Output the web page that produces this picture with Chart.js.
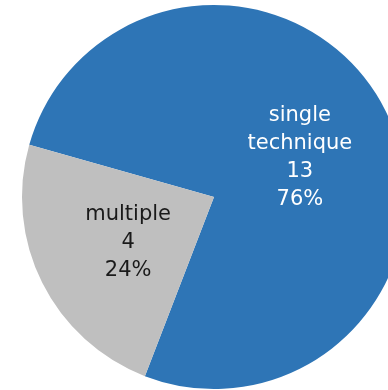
<!DOCTYPE html>
<html>
<head>
<meta charset="utf-8">
<script src="https://cdn.jsdelivr.net/npm/chart.js@4/dist/chart.umd.min.js"></script>
<style>
  html, body { margin: 0; padding: 0; background: #fff; overflow: hidden; }
  #wrap { width: 388px; height: 390px; overflow: hidden; position: relative; }
  canvas { position: absolute; left: 0; top: 0; }
</style>
</head>
<body>
<div id="wrap"><canvas id="c" width="428" height="390"></canvas></div>
<script>
// Categories and counts
const categories = ['single\ntechnique', 'multiple'];
const counts = [13, 4];
const sliceColors = ['#2E75B6', '#BFBFBF'];
const labelColors = ['#FFFFFF', '#1A1A1A'];

const total = counts.reduce((a, b) => a + b, 0);

// Writes category, count and share inside each slice, centred at half the radius
const sliceLabels = {
  id: 'sliceLabels',
  afterDatasetsDraw(chart) {
    const ctx = chart.ctx;
    const meta = chart.getDatasetMeta(0);
    ctx.save();
    ctx.font = '21px "DejaVu Sans", sans-serif';
    ctx.textAlign = 'center';
    ctx.textBaseline = 'middle';
    meta.data.forEach((arc, i) => {
      const pos = arc.tooltipPosition();
      const lines = categories[i].split('\n')
        .concat([String(counts[i]), Math.round(counts[i] / total * 100) + '%']);
      const lh = 28;
      const y0 = pos.y + 3 - (lines.length - 1) * lh / 2;
      ctx.fillStyle = labelColors[i];
      lines.forEach((t, k) => ctx.fillText(t, pos.x, y0 + k * lh));
    });
    ctx.restore();
  }
};

new Chart(document.getElementById('c'), {
  type: 'pie',
  data: {
    labels: categories,
    datasets: [{
      data: counts,
      backgroundColor: sliceColors,
      borderWidth: 0
    }]
  },
  options: {
    responsive: false,
    animation: false,
    rotation: 285.8,
    layout: { padding: { left: 22, right: 22, top: 5, bottom: 1 } },
    plugins: {
      legend: { display: false },
      tooltip: { enabled: false }
    }
  },
  plugins: [sliceLabels]
});
</script>
</body>
</html>
